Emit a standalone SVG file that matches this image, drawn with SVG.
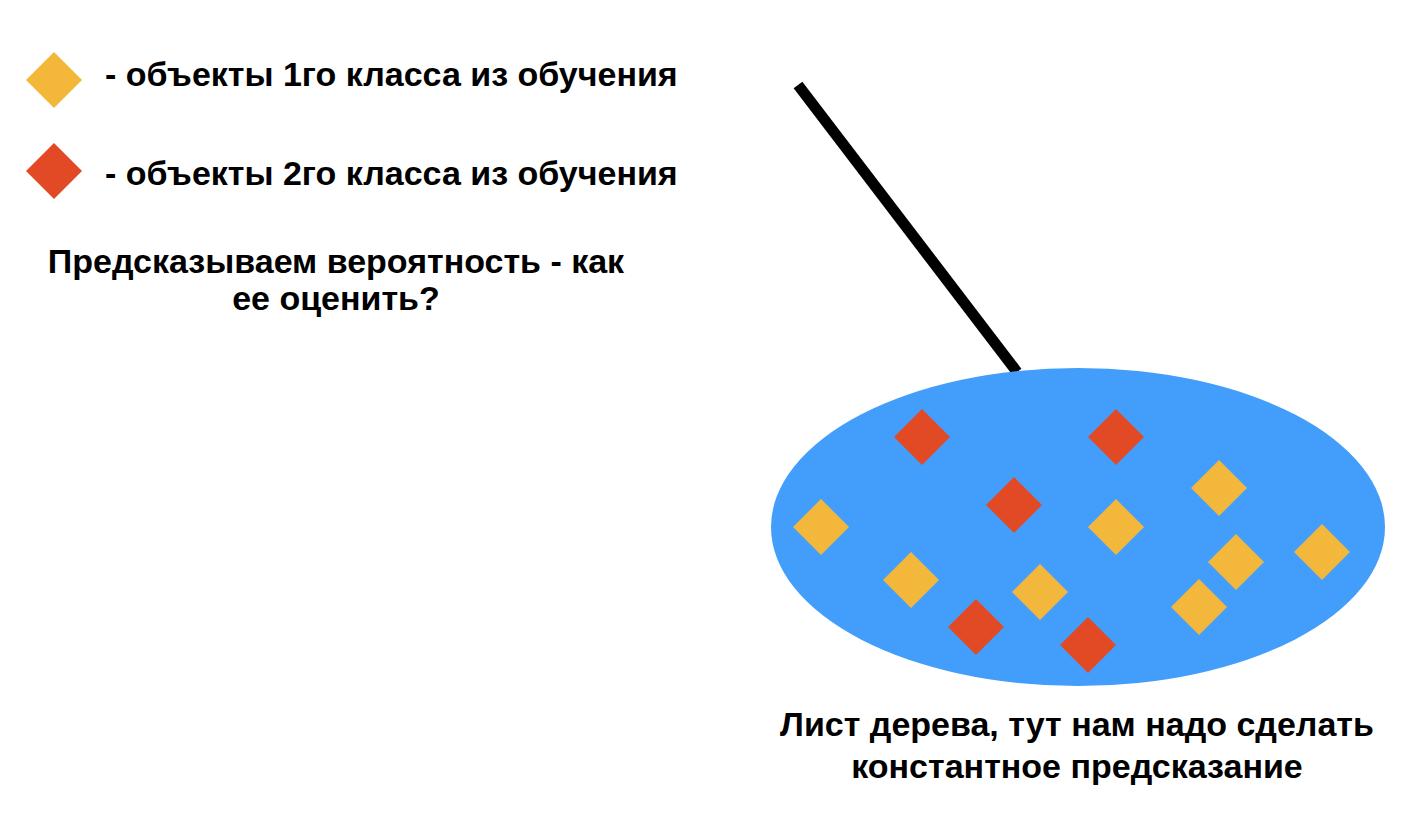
<svg xmlns="http://www.w3.org/2000/svg" width="1406" height="817" viewBox="0 0 1406 817">
<style>
.t{font-family:"Liberation Sans",Arial,sans-serif;font-weight:bold;font-size:34px;fill:#000}
.y{fill:#F3B83B}
.r{fill:#E14A24}
</style>
<defs>
<polygon id="d" points="0,-28 28,0 0,28 -28,0"/>
</defs>
<rect width="1406" height="817" fill="#fff"/>
<g id="legend">
<use href="#d" class="y" x="54" y="80"/>
<text class="t" x="105" y="86">- объекты 1го класса из обучения</text>
<use href="#d" class="r" x="54" y="171"/>
<text class="t" x="105" y="185">- объекты 2го класса из обучения</text>
</g>
<g id="question">
<text class="t" text-anchor="middle" x="336" y="273">Предсказываем вероятность - как</text>
<text class="t" text-anchor="middle" x="336" y="310">ее оценить?</text>
</g>
<g id="connectors">
<line x1="798" y1="85" x2="1017" y2="372" stroke="#000" stroke-width="11"/>
</g>
<g id="leaf">
<ellipse cx="1078" cy="527" rx="307" ry="159" fill="#429EFA"/>
<use href="#d" class="r" x="922" y="437"/>
<use href="#d" class="r" x="1116" y="437"/>
<use href="#d" class="r" x="1014" y="505"/>
<use href="#d" class="r" x="976" y="627"/>
<use href="#d" class="r" x="1088" y="645"/>
<use href="#d" class="y" x="821" y="527"/>
<use href="#d" class="y" x="911" y="580"/>
<use href="#d" class="y" x="1040" y="592"/>
<use href="#d" class="y" x="1116" y="527"/>
<use href="#d" class="y" x="1219" y="488"/>
<use href="#d" class="y" x="1236" y="562"/>
<use href="#d" class="y" x="1322" y="552"/>
<use href="#d" class="y" x="1199" y="607"/>
</g>
<g id="leaf-label">
<text class="t" text-anchor="middle" x="1077" y="736">Лист дерева, тут нам надо сделать</text>
<text class="t" text-anchor="middle" x="1077" y="778">константное предсказание</text>
</g>
</svg>
